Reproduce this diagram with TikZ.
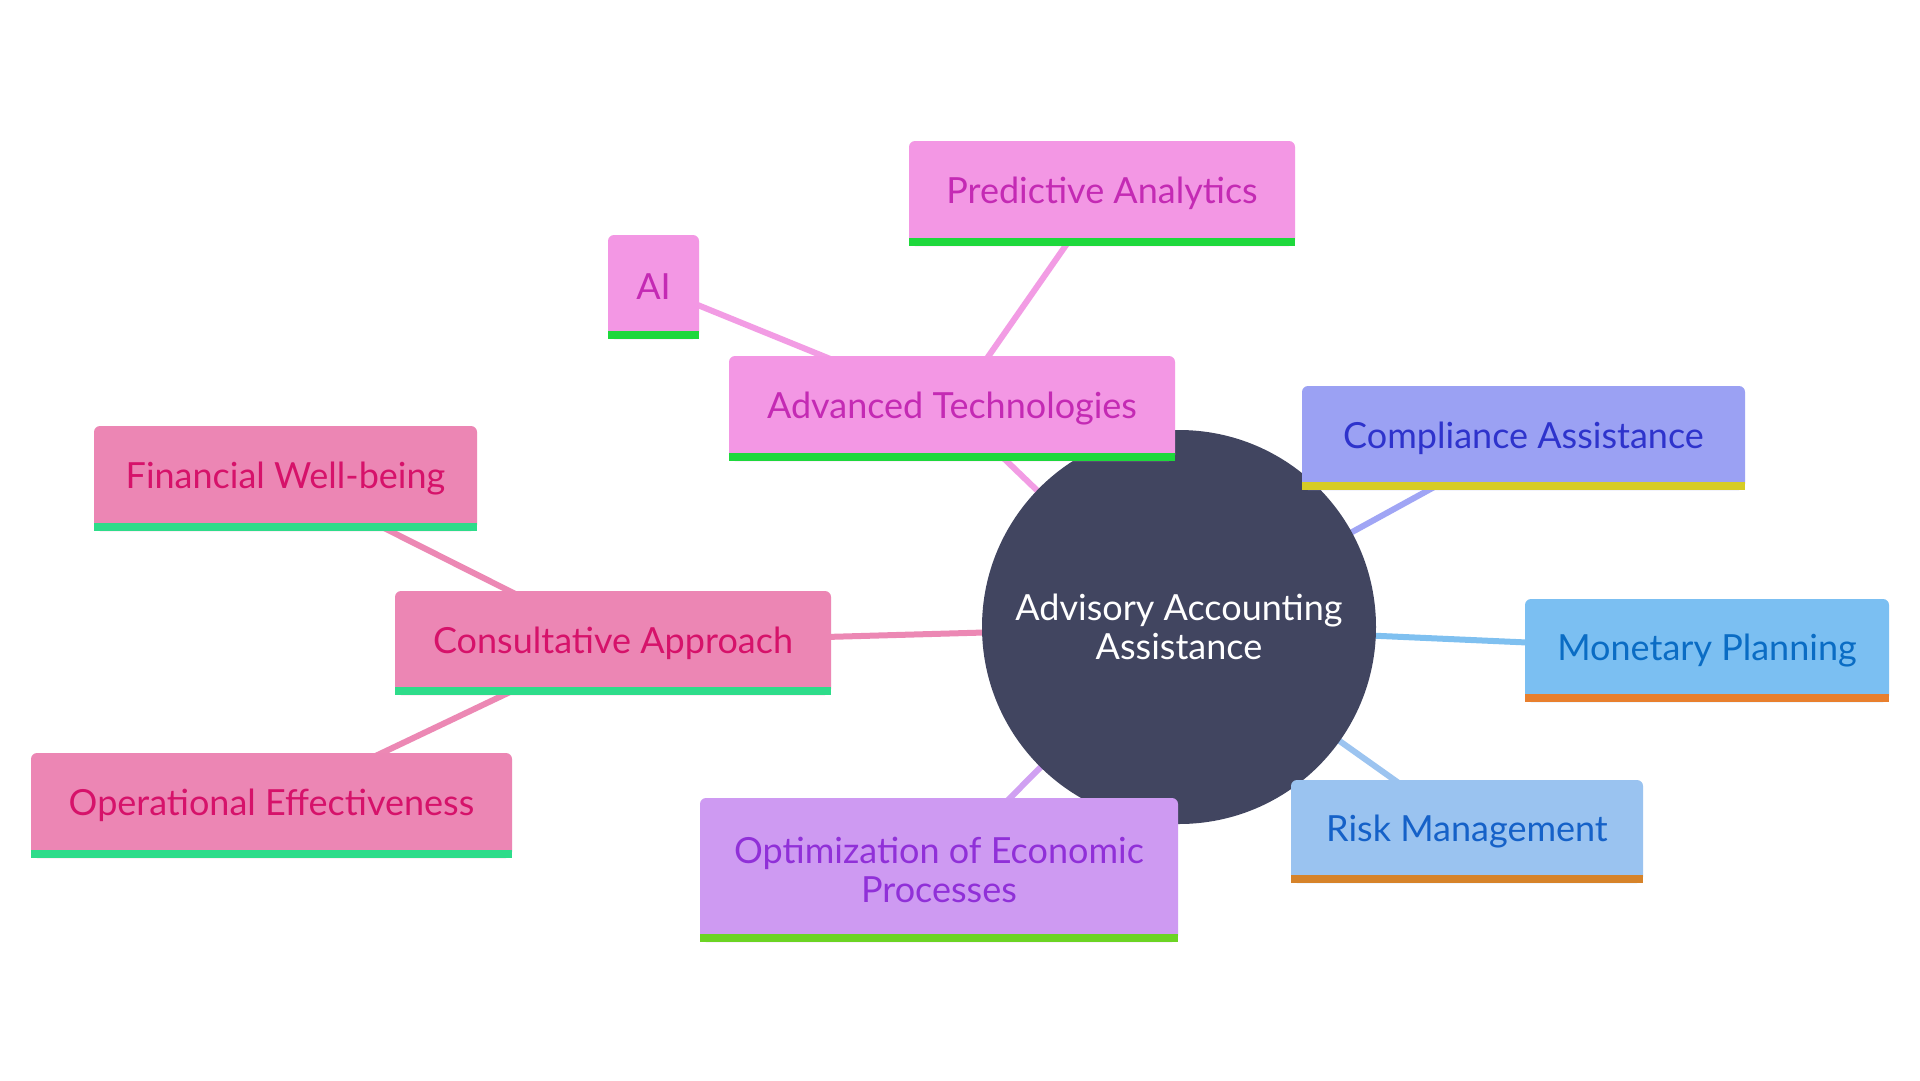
\documentclass[tikz,border=0pt]{standalone}
\usepackage{fontspec}
\setmainfont{Lato}
\usetikzlibrary{backgrounds}
\definecolor{rootc}{HTML}{414560}
\definecolor{pinkf}{HTML}{F397E4}
\definecolor{pinkt}{HTML}{C42AB4}
\definecolor{pinkl}{HTML}{F29CE4}
\definecolor{greenb}{HTML}{1ED83C}
\definecolor{compf}{HTML}{9BA1F3}
\definecolor{compt}{HTML}{2E33CC}
\definecolor{compl}{HTML}{A0A5F5}
\definecolor{compb}{HTML}{D6CC25}
\definecolor{monf}{HTML}{7BBFF2}
\definecolor{mont}{HTML}{0A6CC4}
\definecolor{monl}{HTML}{7FC0F0}
\definecolor{monb}{HTML}{E87F2E}
\definecolor{riskf}{HTML}{9AC3F0}
\definecolor{riskt}{HTML}{1561C8}
\definecolor{riskl}{HTML}{9CC4F0}
\definecolor{riskb}{HTML}{D6832A}
\definecolor{optf}{HTML}{CE9AF2}
\definecolor{optt}{HTML}{9030D8}
\definecolor{optl}{HTML}{D0A0F2}
\definecolor{optb}{HTML}{6CD424}
\definecolor{consf}{HTML}{EC86B4}
\definecolor{const}{HTML}{D6126A}
\definecolor{consl}{HTML}{EC88B4}
\definecolor{consb}{HTML}{2EDC8A}
\begin{document}
\begin{tikzpicture}[x=1pt,y=-1pt,
  box/.style={rounded corners=6pt, inner sep=0pt, align=center,
    font=\fontsize{36}{39}\selectfont},
  link/.style={line width=6pt}]
\useasboundingbox (0,0) rectangle (1920,1080);
% root
\node[circle, fill=rootc, minimum size=394pt, inner sep=0pt, text=white, align=center,
  font=\fontsize{36}{39}\selectfont] (root) at (1179,627) {Advisory Accounting\\Assistance};
% children
\node[box, fill=pinkf, text=pinkt, minimum width=446pt, minimum height=105pt] (adv) at (952,408.5) {Advanced Technologies};
\node[box, fill=pinkf, text=pinkt, minimum width=91pt, minimum height=104pt] (ai) at (653.5,287) {AI};
\node[box, fill=pinkf, text=pinkt, minimum width=386pt, minimum height=105pt] (pred) at (1102,193.5) {Predictive Analytics};
\node[box, fill=compf, text=compt, minimum width=443pt, minimum height=104pt] (comp) at (1523.5,438) {Compliance Assistance};
\node[box, fill=monf, text=mont, minimum width=364pt, minimum height=103pt] (mon) at (1707,650.5) {Monetary Planning};
\node[box, fill=riskf, text=riskt, minimum width=352pt, minimum height=103pt] (risk) at (1467,831.5) {Risk Management};
\node[box, fill=optf, text=optt, minimum width=478pt, minimum height=144pt] (opt) at (939,870) {Optimization of Economic\\Processes};
\node[box, fill=consf, text=const, minimum width=436pt, minimum height=104pt] (cons) at (613,643) {Consultative Approach};
\node[box, fill=consf, text=const, minimum width=383pt, minimum height=105pt] (fin) at (285.5,478.5) {Financial Well-being};
\node[box, fill=consf, text=const, minimum width=481pt, minimum height=105pt] (oper) at (271.5,805.5) {Operational Effectiveness};
% bars
\fill[greenb] (adv.south west) rectangle ([yshift=8pt]adv.south east);
\fill[greenb] (ai.south west) rectangle ([yshift=8pt]ai.south east);
\fill[greenb] (pred.south west) rectangle ([yshift=8pt]pred.south east);
\fill[compb] (comp.south west) rectangle ([yshift=8pt]comp.south east);
\fill[monb] (mon.south west) rectangle ([yshift=8pt]mon.south east);
\fill[riskb] (risk.south west) rectangle ([yshift=8pt]risk.south east);
\fill[optb] (opt.south west) rectangle ([yshift=8pt]opt.south east);
\fill[consb] (cons.south west) rectangle ([yshift=8pt]cons.south east);
\fill[consb] (fin.south west) rectangle ([yshift=8pt]fin.south east);
\fill[consb] (oper.south west) rectangle ([yshift=8pt]oper.south east);
% connectors
\begin{pgfonlayer}{background}
\fill[white] (0,0) rectangle (1920,1080);
\draw[link, pinkl] (root.center) -- (adv.center);
\draw[link, pinkl] (adv.center) -- (ai.center);
\draw[link, pinkl] (adv.center) -- (pred.center);
\draw[link, compl] (root.center) -- (comp.center);
\draw[link, monl] (root.center) -- (mon.center);
\draw[link, riskl] (root.center) -- (risk.center);
\draw[link, optl] (root.center) -- (opt.center);
\draw[link, consl] (root.center) -- (cons.center);
\draw[link, consl] (cons.center) -- (fin.center);
\draw[link, consl] (cons.center) -- (oper.center);
\end{pgfonlayer}
\end{tikzpicture}
\end{document}
